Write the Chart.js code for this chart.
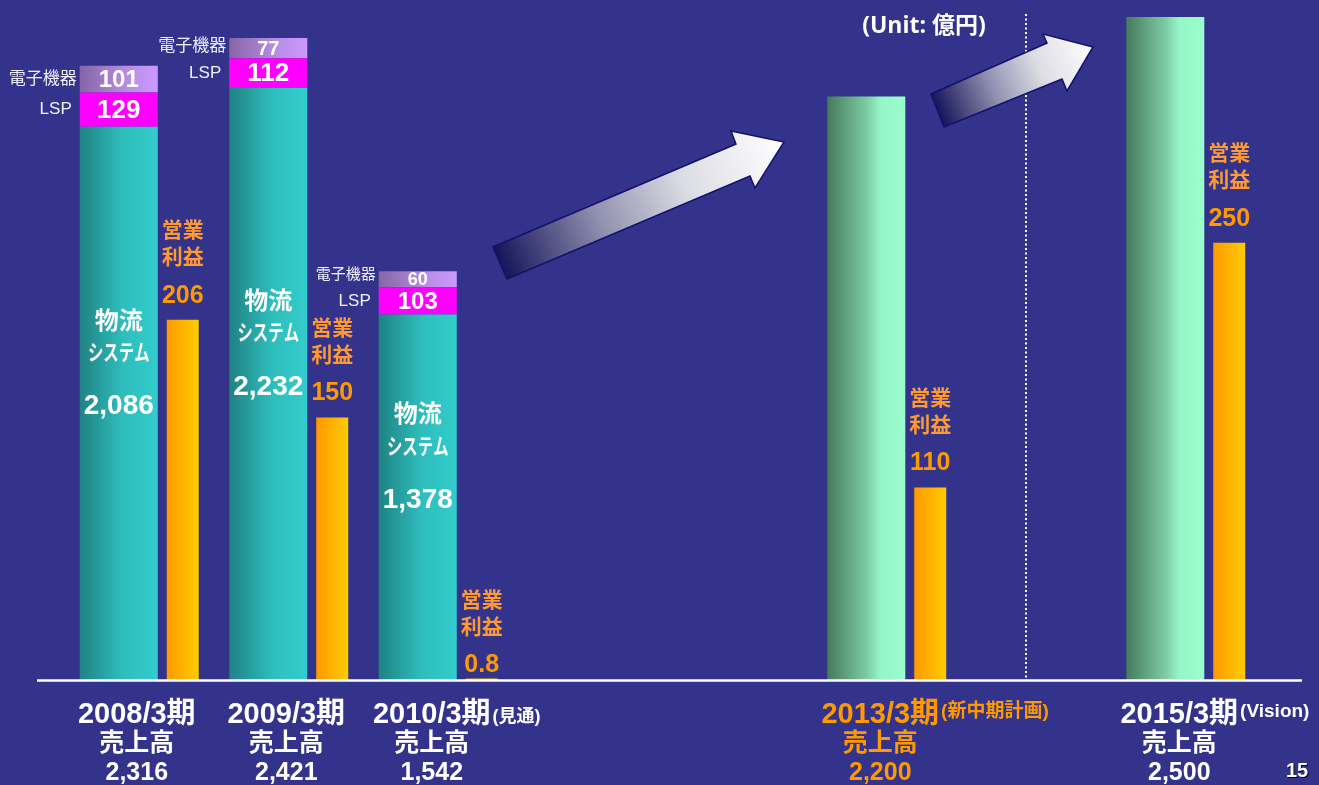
<!DOCTYPE html>
<html lang="ja">
<head>
<meta charset="utf-8">
<script src="https://cdn.jsdelivr.net/npm/chart.js@4.4.0/dist/chart.umd.min.js"></script>
<style>
  html, body { margin: 0; padding: 0; background: #33338c; }
  #salesChart { display: block; }
</style>
</head>
<body>
<canvas id="salesChart" width="1319" height="785"></canvas>
<script>
// periods (empty slots keep the spacing between actuals and plan years)
const periods = ['2008/3期', '2009/3期', '2010/3期', '', '', '2013/3期', '', '2015/3期'];
const periodNotes = ['', '', '(見通)', '', '', '(新中期計画)', '', '(Vision)'];

// sales breakdown (億円)
const logisticsSales = [2086, 2232, 1378, null, null, null, null, null];
const lspSales = [129, 112, 103, null, null, null, null, null];
const electronicsSales = [101, 77, 60, null, null, null, null, null];
const planSales = [null, null, null, null, null, 2200, null, 2500];
const totalSales = [2316, 2421, 1542, null, null, 2200, null, 2500];

// operating profit (億円)
const operatingProfit = [206, 150, 0.8, null, null, 110, null, 250];

const SALES_MAX = 2500;
const PROFIT_MAX = 379;
const CAT_PCT = 0.856;

const JP = '"Liberation Sans", "Noto Sans CJK JP", sans-serif';
const ORANGE = '#ff9900';
const ORANGE_LABEL = '#ff9933';

function barFill(stops, side) {
  return (context) => {
    const chart = context.chart;
    if (!chart.chartArea || context.dataIndex === undefined) return stops[stops.length - 1][1];
    const xs = chart.scales.x;
    const chunk = xs.width / periods.length * CAT_PCT / 2;
    const center = xs.getPixelForValue(context.dataIndex) + (side === 'left' ? -chunk / 2 : chunk / 2);
    const half = chunk * context.dataset.barPercentage / 2;
    const g = chart.ctx.createLinearGradient(center - half, 0, center + half, 0);
    stops.forEach(([p, c]) => g.addColorStop(p, c));
    return g;
  };
}

const tealStops = [[0, '#1f8282'], [0.55, '#2fbdbd'], [1, '#33cccc']];
const lilacStops = [[0, '#8565a6'], [0.6, '#b78de3'], [1, '#cc99ff']];
const greenStops = [[0, '#457a5c'], [0.5, '#7ccaa2'], [0.68, '#96f5c8'], [1, '#99ffcc']];
const orangeStops = [[0, '#ff9900'], [1, '#ffcc00']];

function fmt(v) {
  return v < 1 ? String(v) : v.toLocaleString('en-US');
}

function drawArrow(c, pts) {
  const tail = [(pts[0][0] + pts[6][0]) / 2, (pts[0][1] + pts[6][1]) / 2];
  const tip = pts[3];
  const g = c.createLinearGradient(tail[0], tail[1], tip[0], tip[1]);
  g.addColorStop(0, '#15155a');
  g.addColorStop(0.35, '#9090b0');
  g.addColorStop(0.65, '#dcdce4');
  g.addColorStop(1, '#ffffff');
  c.beginPath();
  pts.forEach(([x, y], i) => (i ? c.lineTo(x, y) : c.moveTo(x, y)));
  c.closePath();
  c.fillStyle = g;
  c.fill();
  c.lineWidth = 1.5;
  c.strokeStyle = '#12126e';
  c.stroke();
}

const decorations = {
  id: 'decorations',
  beforeDatasetsDraw(chart) {
    const c = chart.ctx;
    const base = chart.scales.y.getPixelForValue(0);
    c.save();
    // dotted separator between plan and vision
    c.strokeStyle = '#ffffff';
    c.lineWidth = 2;
    c.setLineDash([2, 2.5]);
    c.beginPath();
    c.moveTo(1026, 14);
    c.lineTo(1026, base);
    c.stroke();
    c.setLineDash([]);
    drawArrow(c, [[493, 247], [736, 144], [731, 131], [784, 142], [755, 188], [750, 176], [507, 279]]);
    drawArrow(c, [[931, 94], [1047, 43], [1043, 34], [1093, 47], [1067, 91], [1062, 79], [944, 127]]);
    c.fillStyle = '#ffffff';
    c.font = 'bold 23px "Open Sans", "Noto Sans CJK JP", sans-serif';
    c.textAlign = 'center';
    c.textBaseline = 'middle';
    c.fillText('(Unit: 億円)', 924, 26);
    c.restore();
  },
  afterDatasetsDraw(chart) {
    const c = chart.ctx;
    const xs = chart.scales.x;
    const base = chart.scales.y.getPixelForValue(0);
    c.save();

    // baseline
    c.strokeStyle = '#ffffff';
    c.lineWidth = 2.5;
    c.beginPath();
    c.moveTo(37, base + 0.5);
    c.lineTo(1302, base + 0.5);
    c.stroke();

    c.textAlign = 'center';
    c.textBaseline = 'middle';

    const logi = chart.getDatasetMeta(0).data;
    const lsp = chart.getDatasetMeta(1).data;
    const elec = chart.getDatasetMeta(2).data;
    const profit = chart.getDatasetMeta(4).data;

    periods.forEach((p, i) => {
      if (logisticsSales[i] != null) {
        const b = logi[i];
        const mid = (b.y + b.base) / 2;
        c.fillStyle = '#ffffff';
        c.font = 'bold 24px "Noto Sans CJK JP", sans-serif';
        c.fillText('物流', b.x, mid - 84);
        c.save();
        c.translate(b.x, mid - 52);
        c.scale(0.7, 1);
        c.font = 'bold 22px "Noto Sans CJK JP", sans-serif';
        c.fillText('システム', 0, 0);
        c.restore();
        c.font = 'bold 28px ' + JP;
        c.fillText(fmt(logisticsSales[i]), b.x, mid + 3);

        // stacked segments on top
        [[lsp[i], lspSales[i], 'LSP', 8], [elec[i], electronicsSales[i], '電子機器', 3]].forEach(([s, v, name, gap]) => {
          const h = s.base - s.y;
          const cy = (s.y + s.base) / 2;
          c.fillStyle = '#ffffff';
          c.textAlign = 'center';
          c.font = 'bold ' + Math.round(Math.min(26, h * 0.6 + 8)) + 'px ' + JP;
          c.fillText(fmt(v), s.x, cy + 1);
          c.fillStyle = '#f0f0ff';
          c.textAlign = 'right';
          c.font = (h < 20 ? 15 : 17) + 'px ' + JP;
          c.fillText(name, s.x - s.width / 2 - gap, cy - (h < 24 ? (24 - h) / 2 : 0));
          c.textAlign = 'center';
        });
      }

      if (operatingProfit[i] != null) {
        const b = profit[i];
        // near-zero bars get their caption tucked closer to the baseline
        const top = (b.base - b.y) < 10 ? b.y + 11 : b.y;
        c.fillStyle = ORANGE_LABEL;
        c.font = 'bold 21px "Noto Sans CJK JP", sans-serif';
        c.fillText('営業', b.x, top - 91);
        c.fillText('利益', b.x, top - 64);
        c.fillStyle = ORANGE;
        c.font = 'bold 25px ' + JP;
        c.fillText(fmt(operatingProfit[i]), b.x, top - 24);
      }

      if (p) {
        const chunk = xs.width / periods.length * CAT_PCT / 2;
        const cx = xs.getPixelForValue(i) - chunk / 2 + (i < 2 ? 18 : 14);
        const color = i === 5 ? ORANGE : '#ffffff';
        c.fillStyle = color;
        c.textAlign = 'center';
        c.font = 'bold 29px ' + JP;
        c.fillText(p, cx, base + 35);
        const w = c.measureText(p).width;
        if (periodNotes[i]) {
          c.textAlign = 'left';
          const small = i === 2;
          c.font = 'bold ' + (small ? 18 : 19) + 'px ' + JP;
          c.fillText(periodNotes[i], cx + w / 2 + 2, base + (small ? 37 : 32));
          c.textAlign = 'center';
        }
        c.font = 'bold 25px "Noto Sans CJK JP", sans-serif';
        c.fillText('売上高', cx, base + 61);
        c.font = 'bold 25px ' + JP;
        c.fillText(fmt(totalSales[i]), cx, base + 93);
      }
    });

    // page number
    c.font = 'bold 20px ' + JP;
    c.textAlign = 'center';
    c.fillStyle = '#000000';
    c.fillText('15', 1298, 772);
    c.fillStyle = '#ffffff';
    c.fillText('15', 1297, 771);
    c.restore();
  }
};

const salesBar = { stack: 'sales', yAxisID: 'y', barPercentage: 1.22, categoryPercentage: CAT_PCT, borderWidth: 0 };

new Chart(document.getElementById('salesChart'), {
  type: 'bar',
  data: {
    labels: periods,
    datasets: [
      { ...salesBar, label: '物流システム', data: logisticsSales, backgroundColor: barFill(tealStops, 'left') },
      { ...salesBar, label: 'LSP', data: lspSales, backgroundColor: '#ff00ff' },
      { ...salesBar, label: '電子機器', data: electronicsSales, backgroundColor: barFill(lilacStops, 'left') },
      { ...salesBar, label: '売上高計画', data: planSales, backgroundColor: barFill(greenStops, 'left') },
      {
        label: '営業利益', data: operatingProfit, stack: 'profit', yAxisID: 'y1',
        barPercentage: 0.5, categoryPercentage: CAT_PCT, borderWidth: 0,
        backgroundColor: barFill(orangeStops, 'right')
      }
    ]
  },
  options: {
    responsive: false,
    animation: false,
    events: [],
    layout: { padding: { left: 76, right: 47, top: 17, bottom: 105 } },
    plugins: { legend: { display: false }, tooltip: { enabled: false } },
    scales: {
      x: { display: false },
      y: { display: false, stacked: true, min: 0, max: SALES_MAX },
      y1: { display: false, stacked: true, min: 0, max: PROFIT_MAX }
    }
  },
  plugins: [decorations]
});
</script>
</body>
</html>
